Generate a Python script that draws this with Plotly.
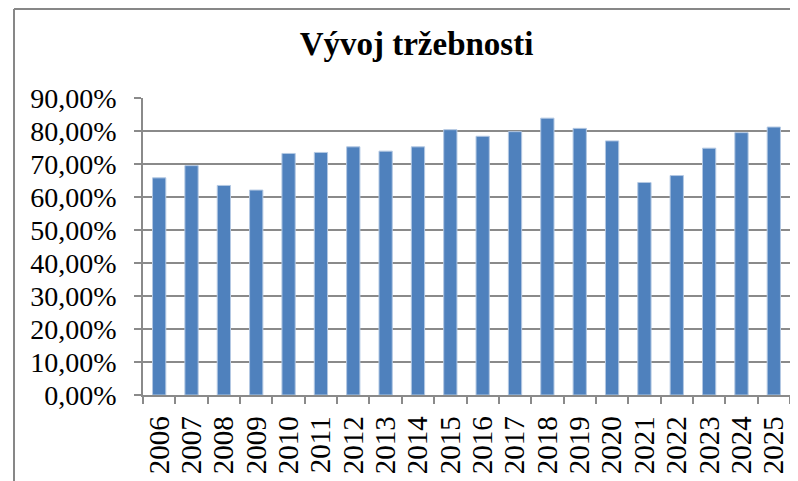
import plotly.graph_objects as go

years = [str(y) for y in range(2006, 2026)]
values = [0.658, 0.695, 0.635, 0.621, 0.732, 0.735, 0.752, 0.739, 0.752, 0.804,
          0.784, 0.798, 0.839, 0.808, 0.770, 0.644, 0.665, 0.748, 0.795, 0.812]
y_ticks = [i / 10 for i in range(0, 10)]
title_text = "Vývoj tržebnosti"

# the page adds an 8px body margin, so the figure is drawn 8px smaller
W, H = 790, 473
L, R, T, B = 135, 8, 90, 86
pw, ph = W - L - R, H - T - B

def px2paper_x(px):
    return (px - L) / pw

def px2paper_y(py):
    return (H - B - py) / ph

fig = go.Figure()
fig.add_trace(go.Bar(
    x=years, y=values,
    marker=dict(color="#4F81BD", line=dict(color="#B3C8E3", width=1)),
    width=0.41,
))

grid_col = "#8A8A8A"
fig.update_layout(
    width=W, height=H,
    margin=dict(l=L, r=R, t=T, b=B, autoexpand=False),
    paper_bgcolor="white", plot_bgcolor="white",
    separators=", ",
    showlegend=False,
    title=dict(
        text="<b>" + title_text + "</b>",
        font=dict(family="Liberation Serif", size=33, color="black"),
        x=408.5 / W, xanchor="center",
        y=1 - 35.5 / H, yanchor="middle", yref="container",
    ),
    xaxis=dict(
        type="category",
        tickmode="array", tickvals=years, ticktext=years,
        tickangle=-90,
        tickfont=dict(family="Liberation Serif", size=29, color="black"),
        showline=True, linecolor=grid_col, linewidth=1.5,
        ticks="outside", ticklen=7, tickcolor=grid_col, tickwidth=1.5,
        tickson="boundaries",
        showgrid=False,
        automargin=False,
        ticklabelstandoff=8,
    ),
    yaxis=dict(
        range=[0, 0.9],
        tickvals=y_ticks,
        tickformat=".2%",
        tickfont=dict(family="Liberation Serif", size=28, color="black"),
        showline=True, linecolor=grid_col, linewidth=1.5,
        ticks="outside", ticklen=7, tickcolor=grid_col, tickwidth=1.5,
        showgrid=True, gridcolor=grid_col, gridwidth=1.6,
        zeroline=False,
        automargin=False,
        ticklabelstandoff=12,
    ),
    shapes=[
        dict(type="line", xref="paper", yref="paper",
             x0=px2paper_x(6), x1=px2paper_x(6), y0=px2paper_y(1), y1=px2paper_y(500),
             line=dict(color="#878787", width=2)),
        dict(type="line", xref="paper", yref="paper",
             x0=px2paper_x(6), x1=px2paper_x(810), y0=px2paper_y(1), y1=px2paper_y(1),
             line=dict(color="#878787", width=2)),
    ],
)

fig.write_html("out.html")
